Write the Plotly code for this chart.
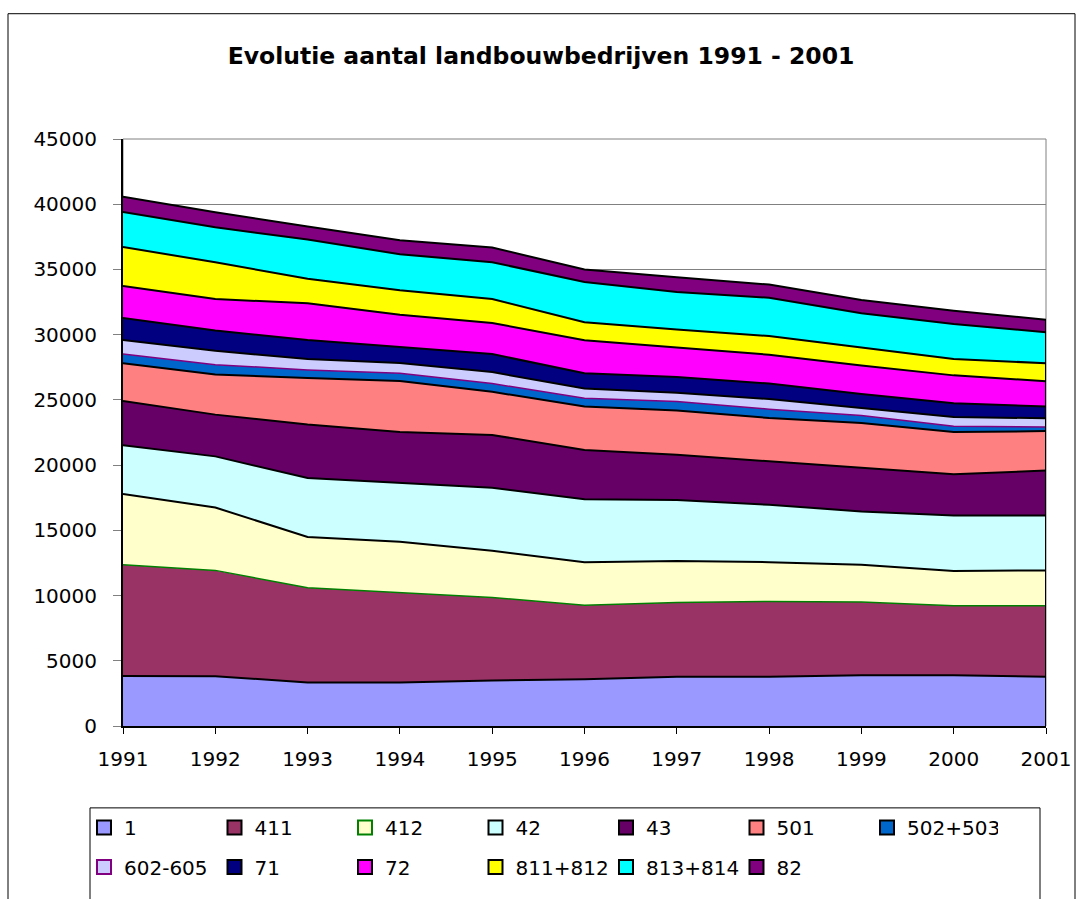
import plotly.graph_objects as go

years = [1991, 1992, 1993, 1994, 1995, 1996, 1997, 1998, 1999, 2000, 2001]

s_1 = [3840, 3820, 3340, 3340, 3490, 3590, 3770, 3770, 3890, 3890, 3770]
s_411 = [8520, 8110, 7260, 6910, 6360, 5660, 5700, 5780, 5610, 5330, 5450]
s_412 = [5430, 4820, 3890, 3870, 3590, 3310, 3170, 3010, 2860, 2660, 2710]
s_42 = [3740, 3920, 4520, 4520, 4820, 4830, 4690, 4400, 4090, 4250, 4200]
s_43 = [3390, 3200, 4100, 3890, 4050, 3770, 3470, 3310, 3340, 3160, 3460]
s_501 = [2890, 3080, 3560, 3920, 3310, 3330, 3390, 3340, 3440, 3240, 3020]
s_502_503 = [700, 750, 630, 600, 630, 630, 680, 680, 580, 450, 320]
s_602_605 = [1080, 1060, 830, 780, 880, 750, 680, 780, 560, 710, 660]
s_71 = [1680, 1560, 1460, 1230, 1380, 1180, 1200, 1180, 1080, 1050, 900]
s_72 = [2470, 2410, 2810, 2460, 2390, 2520, 2260, 2210, 2180, 2140, 1940]
s_811_812 = [2980, 2820, 1890, 1890, 1830, 1380, 1390, 1430, 1380, 1250, 1380]
s_813_814 = [2690, 2680, 3010, 2760, 2820, 3090, 2880, 2940, 2640, 2690, 2380]
s_82 = [1160, 1160, 1000, 1060, 1130, 950, 1130, 1010, 1000, 1020, 950]

names = ["1", "411", "412", "42", "43", "501", "502+503",
         "602-605", "71", "72", "811+812", "813+814", "82"]
series = [s_1, s_411, s_412, s_42, s_43, s_501, s_502_503,
          s_602_605, s_71, s_72, s_811_812, s_813_814, s_82]
fills = ["#9999FF", "#993366", "#FFFFCC", "#CCFFFF", "#660066", "#FF8080", "#0066CC",
         "#CCCCFF", "#000080", "#FF00FF", "#FFFF00", "#00FFFF", "#800080"]
outlines = ["#000000", "#000000", "#008000", "#000000", "#000000", "#000000", "#000000",
            "#800080", "#000000", "#000000", "#000000", "#000000", "#000000"]

FONT = "DejaVu Sans, sans-serif"

fig = go.Figure()

# stacked areas; each boundary gets the outline colour of the series above it
for i, (nm, vals, fc) in enumerate(zip(names, series, fills)):
    lc = outlines[i + 1] if i + 1 < len(outlines) else "#000000"
    lw = 1.5 if lc != "#000000" else 2
    fig.add_trace(go.Scatter(
        x=years, y=vals, name=nm, stackgroup="one", mode="lines",
        fillcolor=fc, line=dict(color=lc, width=lw),
        showlegend=False, hoverinfo="skip"))

# right edge outline of the areas
total_last = sum(s[-1] for s in series)
fig.add_trace(go.Scatter(x=[years[-1], years[-1]], y=[0, total_last], mode="lines",
                         line=dict(color="#000000", width=2), showlegend=False,
                         hoverinfo="skip"))

# legend entries (square icons)
for i, (nm, fc, oc) in enumerate(zip(names, fills, outlines)):
    fig.add_trace(go.Scatter(
        x=[None], y=[None], mode="markers", name=nm,
        marker=dict(symbol="square", size=14, color=fc,
                    line=dict(color=oc, width=2)),
        legend="legend" if i < 7 else "legend2", showlegend=True))

W, H = 1082, 899
L, R, T, B = 123, 36, 139, 165
pw, ph = W - L - R, H - T - B


def px_x(x):
    return (x - L) / pw


def px_y(y):
    return (H - B - y) / ph


legend_common = dict(
    orientation="h", xanchor="left", yanchor="middle",
    font=dict(family=FONT, size=20, color="#000000"),
    bgcolor="rgba(0,0,0,0)", borderwidth=0,
    entrywidth=85.5, entrywidthmode="pixels", itemclick=False, itemdoubleclick=False,
    traceorder="normal")

fig.update_layout(
    width=W, height=H,
    margin=dict(l=L, r=R, t=T, b=B, pad=0),
    paper_bgcolor="#FFFFFF", plot_bgcolor="#FFFFFF",
    title=dict(text="<b>Evolutie aantal landbouwbedrijven 1991 - 2001</b>",
               x=0.5, xref="container", xanchor="center",
               y=1 - 56 / H, yref="container", yanchor="middle",
               font=dict(family=FONT, size=23.5, color="#000000")),
    font=dict(family=FONT, size=20, color="#000000"),
    legend=dict(x=px_x(84), y=px_y(837), **legend_common),
    legend2=dict(x=px_x(84), y=px_y(877), **legend_common),
    xaxis=dict(range=[years[0], years[-1]], tickvals=years, tickformat="d",
               showgrid=False, zeroline=False,
               showline=True, linecolor="#000000", linewidth=2,
               ticks="outside", ticklen=6, tickcolor="#000000", tickwidth=1,
               ticklabelstandoff=8,
               tickfont=dict(family=FONT, size=20)),
    yaxis=dict(range=[0, 45000], tickvals=list(range(0, 45001, 5000)), tickformat="d",
               showgrid=True, gridcolor="#808080", gridwidth=1, zeroline=False,
               showline=True, linecolor="#000000", linewidth=2,
               ticks="outside", ticklen=8, tickcolor="#808080", tickwidth=1,
               ticklabelstandoff=12,
               tickfont=dict(family=FONT, size=20)),
    shapes=[
        # plot area border
        dict(type="rect", xref="paper", yref="paper", x0=0, x1=1, y0=0, y1=1,
             line=dict(color="#808080", width=1), layer="below"),
        # legend box
        dict(type="rect", xref="paper", yref="paper",
             x0=px_x(90), x1=px_x(1040), y0=px_y(817), y1=px_y(910),
             line=dict(color="#000000", width=1), layer="above"),
        # outer chart border
        dict(type="rect", xref="paper", yref="paper",
             x0=px_x(8), x1=px_x(1075), y0=px_y(12), y1=px_y(915),
             line=dict(color="#000000", width=1), layer="above"),
    ],
)

fig.write_html("out.html", config={"displayModeBar": False},
               post_script="document.body.style.margin='0px';")
